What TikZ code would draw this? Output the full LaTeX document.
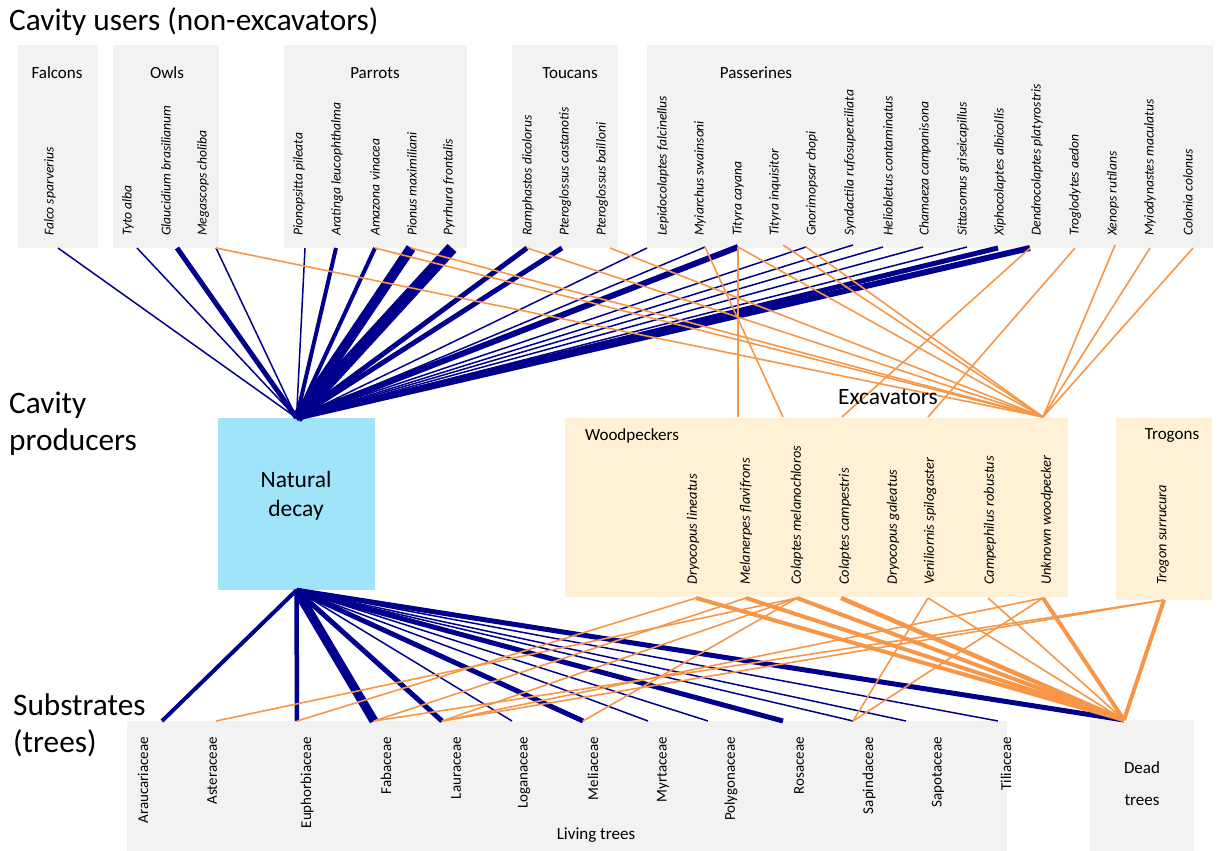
\documentclass[tikz,border=0pt]{standalone}
\usepackage{fontspec}
\setmainfont{Carlito}
\usepackage{xcolor}
\usepackage{tikz}
\usetikzlibrary{positioning}
\definecolor{usergray}{RGB}{242,242,242}
\definecolor{decayblue}{RGB}{160,228,250}
\definecolor{excavcream}{RGB}{255,240,214}
\definecolor{linkblue}{RGB}{0,0,140}
\definecolor{linkorange}{RGB}{247,150,70}

\begin{document}
\begin{tikzpicture}[
    x=1pt, y=-1pt,
    head/.style={font=\fontsize{31.3}{37}\selectfont, align=left, anchor=west, inner sep=0pt},
    grp/.style={font=\fontsize{17}{20}\selectfont, inner sep=0pt},
    sp/.style={font=\fontsize{13.6}{16}\selectfont\itshape, rotate=90, anchor=west, inner sep=0pt},
    wsp/.style={sp, font=\fontsize{14.4}{17}\selectfont\itshape},
    fam/.style={font=\fontsize{15}{18}\selectfont, rotate=90, anchor=east, inner sep=0pt},
    userbox/.style={fill=usergray, inner sep=0pt, minimum height=203pt},
    excbox/.style={fill=excavcream, inner sep=0pt},
    bl/.style={draw=linkblue, line width=1.5pt},
    ol/.style={draw=linkorange, line width=1.6pt},
    olthick/.style={draw=linkorange, line width=4pt}
  ]
    \useasboundingbox (0,0) rectangle (1218,851);

    % boxes
    \node[userbox, minimum width=80pt] (falcons) at (58,146.5) {};
    \node[userbox, minimum width=106pt] (owls) at (166,146.5) {};
    \node[userbox, minimum width=183pt] (parrots) at (375.5,146.5) {};
    \node[userbox, minimum width=106pt] (toucans) at (565,146.5) {};
    \node[userbox, minimum width=566pt] (passerines) at (930,146.5) {};
    \node[fill=decayblue, minimum width=157pt, minimum height=172pt, inner sep=0pt] (decay) at (296.5,504) {};
    \node[excbox, minimum width=503pt, minimum height=179pt] (woodpeckers) at (816.5,507.5) {};
    \node[excbox, minimum width=96pt, minimum height=182pt] (trogons) at (1164,509) {};
    \node[fill=usergray, minimum width=880pt, minimum height=130pt, inner sep=0pt] (living) at (567,786) {};
    \node[fill=usergray, minimum width=104pt, minimum height=131pt, inner sep=0pt] (dead) at (1142,785.5) {};

    % link ends
    \coordinate (falco-e) at (58,248);
    \coordinate (tyto-e) at (137,248);
    \coordinate (glauc-e) at (177,248);
    \coordinate (megas-e) at (216,248);
    \coordinate (piono-e) at (305,248);
    \coordinate (arat-e) at (336,248);
    \coordinate (amaz-e) at (375,248);
    \coordinate (pionus-e) at (411,248);
    \coordinate (pyrr-e) at (452,248);
    \coordinate (ramph-e) at (527,248);
    \coordinate (pcast-e) at (562,248);
    \coordinate (pbail-e) at (610,248);
    \coordinate (lepid-e) at (647,248);
    \coordinate (myiar-e) at (705,247);
    \coordinate (tcay-e) at (738,247);
    \coordinate (tinq-e) at (783,245);
    \coordinate (gnor-e) at (806,247);
    \coordinate (synd-e) at (853,245);
    \coordinate (helio-e) at (883,247);
    \coordinate (cham-e) at (923,247);
    \coordinate (sitt-e) at (967,247);
    \coordinate (xiph-e) at (998,248);
    \coordinate (dendro-e) at (1030,248);
    \coordinate (trog-e) at (1075,248);
    \coordinate (xenops-e) at (1115,245);
    \coordinate (myiod-e) at (1150,248);
    \coordinate (colon-e) at (1193,248);

    \coordinate (mf-top) at (738,417);
    \coordinate (cm-top) at (783,417);
    \coordinate (cc-top) at (842,417);
    \coordinate (vs-top) at (928,417);
    \coordinate (uw-top) at (1043,417);
    \coordinate (dl-bot) at (696,598);
    \coordinate (mf-bot) at (746,598);
    \coordinate (cm-bot) at (797,598);
    \coordinate (cc-bot) at (841,598);
    \coordinate (vs-bot) at (928,598);
    \coordinate (cr-bot) at (988,598);
    \coordinate (uw-bot) at (1043,598);
    \coordinate (tr-bot) at (1164,600);

    \coordinate (ara-e) at (162,721);
    \coordinate (ast-e) at (216,721);
    \coordinate (eup-e) at (297,721);
    \coordinate (fab-e) at (374,721);
    \coordinate (lau-e) at (442,721);
    \coordinate (log-e) at (512,721);
    \coordinate (mel-e) at (583,721);
    \coordinate (myr-e) at (648,721);
    \coordinate (pol-e) at (708,721);
    \coordinate (ros-e) at (783,721);
    \coordinate (sapi-e) at (853,721);
    \coordinate (sapo-e) at (906,721);
    \coordinate (til-e) at (998,721);
    \coordinate (dead-e) at (1124,720);

    % natural decay links
    \draw[bl] (falco-e) -- (decay.north);
    \draw[bl] (tyto-e) -- (decay.north);
    \draw[bl, line width=5pt] (glauc-e) -- (decay.north);
    \draw[bl] (megas-e) -- (decay.north);
    \draw[bl] (piono-e) -- (decay.north);
    \draw[bl, line width=4pt] (arat-e) -- (decay.north);
    \draw[bl, line width=4pt] (amaz-e) -- (decay.north);
    \draw[bl, line width=10pt] (pionus-e) -- (decay.north);
    \draw[bl, line width=12pt] (pyrr-e) -- (decay.north);
    \draw[bl, line width=5pt] (ramph-e) -- (decay.north);
    \draw[bl, line width=5pt] (pcast-e) -- (decay.north);
    \draw[bl] (lepid-e) -- (decay.north);
    \draw[bl] (myiar-e) -- (decay.north);
    \draw[bl, line width=6pt] (tcay-e) -- (decay.north);
    \draw[bl] (gnor-e) -- (decay.north);
    \draw[bl] (synd-e) -- (decay.north);
    \draw[bl] (helio-e) -- (decay.north);
    \draw[bl] (cham-e) -- (decay.north);
    \draw[bl] (sitt-e) -- (decay.north);
    \draw[bl, line width=5pt] (xiph-e) -- (decay.north);
    \draw[bl, line width=6pt] (dendro-e) -- (decay.north);

    \draw[bl, line width=4pt] (decay.south) -- (ara-e);
    \draw[bl, line width=4.5pt] (decay.south) -- (eup-e);
    \draw[bl, line width=9pt] (decay.south) -- (fab-e);
    \draw[bl, line width=5pt] (decay.south) -- (lau-e);
    \draw[bl] (decay.south) -- (log-e);
    \draw[bl, line width=5pt] (decay.south) -- (mel-e);
    \draw[bl] (decay.south) -- (myr-e);
    \draw[bl] (decay.south) -- (pol-e);
    \draw[bl, line width=5pt] (decay.south) -- (ros-e);
    \draw[bl] (decay.south) -- (sapi-e);
    \draw[bl] (decay.south) -- (sapo-e);
    \draw[bl] (decay.south) -- (til-e);
    \draw[bl, line width=5pt] (decay.south) -- (dead-e);

    % excavator links
    \draw[ol] (megas-e) -- (uw-top);
    \draw[ol] (amaz-e) -- (uw-top);
    \draw[ol] (pionus-e) -- (uw-top);
    \draw[ol] (ramph-e) -- (uw-top);
    \draw[ol] (pbail-e) -- (uw-top);
    \draw[ol] (myiar-e) -- (cm-top);
    \draw[ol] (tcay-e) -- (mf-top);
    \draw[ol] (tcay-e) -- (uw-top);
    \draw[ol] (tinq-e) -- (uw-top);
    \draw[ol] (gnor-e) -- (uw-top);
    \draw[ol] (dendro-e) -- (cc-top);
    \draw[ol] (trog-e) -- (vs-top);
    \draw[ol] (xenops-e) -- (uw-top);
    \draw[ol] (myiod-e) -- (uw-top);
    \draw[ol] (colon-e) -- (uw-top);

    \draw[ol] (dl-bot) -- (eup-e);
    \draw[olthick] (dl-bot) -- (dead-e);
    \draw[ol] (mf-bot) -- (fab-e);
    \draw[olthick] (mf-bot) -- (dead-e);
    \draw[ol] (cm-bot) -- (ast-e);
    \draw[ol] (cm-bot) -- (lau-e);
    \draw[ol] (cm-bot) -- (mel-e);
    \draw[olthick] (cm-bot) -- (dead-e);
    \draw[olthick, line width=4.5pt] (cc-bot) -- (dead-e);
    \draw[ol] (vs-bot) -- (sapi-e);
    \draw[ol] (vs-bot) -- (dead-e);
    \draw[ol] (cr-bot) -- (dead-e);
    \draw[ol] (uw-bot) -- (lau-e);
    \draw[ol] (uw-bot) -- (sapi-e);
    \draw[olthick] (uw-bot) -- (dead-e);
    \draw[ol] (tr-bot) -- (fab-e);
    \draw[ol] (tr-bot) -- (lau-e);
    \draw[olthick] (tr-bot) -- (dead-e);

    % headings
    \node[head] (users-title) at (9,22) {Cavity users (non-excavators)};
    \node[head] (producers-title) at (9,424) {Cavity\\producers};
    \node[head] (substrates-title) at (13,725) {Substrates\\(trees)};
    \node[font=\fontsize{23.4}{29}\selectfont, inner sep=0pt] (excavators-title) at (888,397) {Excavators};
    \node[font=\fontsize{23.5}{29}\selectfont, align=center, inner sep=0pt] (decay-text) at (296,496) {Natural\\decay};

    % group labels
    \node[grp] (falcons-lab) at (57,73) {Falcons};
    \node[grp] (owls-lab) at (167,73) {Owls};
    \node[grp] (parrots-lab) at (375,73) {Parrots};
    \node[grp] (toucans-lab) at (570,73) {Toucans};
    \node[grp] (passerines-lab) at (756,73) {Passerines};
    \node[grp] (woodpeckers-lab) at (632,436) {Woodpeckers};
    \node[grp] (trogons-lab) at (1172,436) {Trogons};
    \node[grp] (living-lab) at (596,835) {Living trees};
    \node[grp] (dead-lab1) at (1142,768) {Dead};
    \node[grp] (dead-lab2) at (1142,800) {trees};

    % cavity users
    \node[sp] (falco) at (50,236) {Falco sparverius};
    \node[sp] (tyto) at (128,236) {Tyto alba};
    \node[sp] (glauc) at (166,236) {Glaucidium brasilianum};
    \node[sp] (megas) at (203,236) {Megascops choliba};
    \node[sp] (piono) at (299,236) {Pionopsitta pileata};
    \node[sp] (arat) at (337,236) {Aratinga leucophthalma};
    \node[sp] (amaz) at (375,236) {Amazona vinacea};
    \node[sp] (pionus) at (412,236) {Pionus maximiliani};
    \node[sp] (pyrr) at (449,236) {Pyrrhura frontalis};
    \node[sp] (ramph) at (528,236) {Ramphastos dicolorus};
    \node[sp] (pcast) at (565,236) {Pteroglossus castanotis};
    \node[sp] (pbail) at (602,236) {Pteroglossus bailloni};
    \node[sp] (lepid) at (663,236) {Lepidocolaptes falcinellus};
    \node[sp] (myiar) at (700,236) {Myiarchus swainsoni};
    \node[sp] (tcay) at (738,236) {Tityra cayana};
    \node[sp] (tinq) at (775,236) {Tityra inquisitor};
    \node[sp] (gnor) at (812,236) {Gnorimopsar chopi};
    \node[sp] (synd) at (850,236) {Syndactila rufosuperciliata};
    \node[sp] (helio) at (888,236) {Heliobletus contaminatus};
    \node[sp] (cham) at (925,236) {Chamaeza campanisona};
    \node[sp] (sitt) at (963,236) {Sittasomus griseicapillus};
    \node[sp] (xiph) at (1000,236) {Xiphocolaptes albicollis};
    \node[sp] (dendro) at (1037,236) {Dendrocolaptes platyrostris};
    \node[sp] (trog) at (1075,236) {Troglodytes aedon};
    \node[sp] (xenops) at (1113,236) {Xenops rutilans};
    \node[sp] (myiod) at (1150,236) {Myiodynastes maculatus};
    \node[sp] (colon) at (1188,236) {Colonia colonus};

    % excavators
    \node[wsp] (dl) at (693,585) {Dryocopus lineatus};
    \node[wsp] (mf) at (746,585) {Melanerpes flavifrons};
    \node[wsp] (cm) at (797,585) {Colaptes melanochloros};
    \node[wsp] (cc) at (845,585) {Colaptes campestris};
    \node[wsp] (dg) at (893,585) {Dryocopus galeatus};
    \node[wsp] (vs) at (930,585) {Veniliornis spilogaster};
    \node[wsp] (cr) at (990,585) {Campephilus robustus};
    \node[wsp] (uw) at (1047,585) {Unknown woodpecker};
    \node[wsp] (tr) at (1163,585) {Trogon surrucura};

    % substrates
    \node[fam] (ara) at (143,737) {Araucariaceae};
    \node[fam] (ast) at (212,737) {Asteraceae};
    \node[fam] (eup) at (307,737) {Euphorbiaceae};
    \node[fam] (fab) at (386,737) {Fabaceae};
    \node[fam] (lau) at (456,737) {Lauraceae};
    \node[fam] (log) at (524,737) {Loganaceae};
    \node[fam] (mel) at (593,737) {Meliaceae};
    \node[fam] (myr) at (663,737) {Myrtaceae};
    \node[fam] (pol) at (731,737) {Polygonaceae};
    \node[fam] (ros) at (799,737) {Rosaceae};
    \node[fam] (sapi) at (869,737) {Sapindaceae};
    \node[fam] (sapo) at (938,737) {Sapotaceae};
    \node[fam] (til) at (1006,737) {Tiliaceae};
  \end{tikzpicture}
\end{document}
